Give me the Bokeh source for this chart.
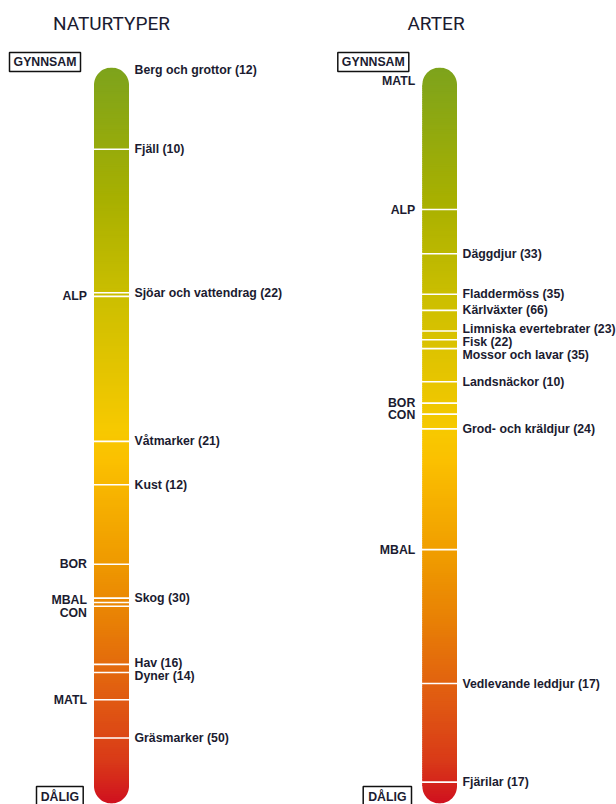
import numpy as np
from bokeh.plotting import figure
from bokeh.models import Range1d, ColumnDataSource
from bokeh.core.properties import value
from bokeh.embed import file_html
from bokeh.resources import INLINE

# ---------------- data (position on status scale: 0 = GYNNSAM, 100 = DÅLIG) ----------------
nat_names = ["Berg och grottor", "Fjäll", "Sjöar och vattendrag", "Våtmarker", "Kust",
             "Skog", "Hav", "Dyner", "Gräsmarker"]
nat_counts = [12, 10, 22, 21, 12, 30, 16, 14, 50]
nat_pos = [0.4, 11.1, 30.6, 50.8, 56.7, 72.1, 81.1, 82.2, 91.1]
nat_regions = ["ALP", "BOR", "MBAL", "CON", "MATL"]
nat_region_pos = [31.1, 67.5, 72.7, 73.2, 85.9]

art_names = ["Däggdjur", "Fladdermöss", "Kärlväxter", "Limniska evertebrater", "Fisk",
             "Mossor och lavar", "Landsnäckor", "Grod- och kräldjur", "Vedlevande leddjur", "Fjärilar"]
art_counts = [33, 35, 66, 23, 22, 35, 10, 24, 17, 17]
art_pos = [25.3, 30.8, 33.0, 35.8, 37.0, 38.2, 42.7, 49.1, 83.7, 97.1]
art_regions = ["MATL", "ALP", "BOR", "CON", "MBAL"]
art_region_pos = [1.9, 19.3, 45.6, 47.1, 65.5]

panel_titles = ["NATURTYPER", "ARTER"]
scale_top_label = "GYNNSAM"
scale_bottom_label = "DÅLIG"

# ---------------- styling / layout ----------------
W, H = 616, 804
TOP = 67.0            # screen y of scale start
PX = 7.36             # pixels per scale unit
def sv(y):
    return (y - TOP) / PX

INK = "#1b1b30"
LABEL_FONT = value("Liberation Sans")
TITLE_FONT = value("Roboto")

stops_v = [0, 18.1, 31.7, 49.3, 53.4, 67.0, 75.1, 86.0, 94.2, 100]
stops_c = ["#7DA31C", "#A8B000", "#CDBF00", "#F7C900", "#FBC000",
           "#EF9A00", "#E88005", "#E05A12", "#D93A18", "#D0101F"]
stop_rgb = np.array([[int(c[i:i + 2], 16) for i in (1, 3, 5)] for c in stops_c], float)

def grad(v):
    return "#%02x%02x%02x" % tuple(int(round(np.interp(v, stops_v, stop_rgb[:, k]))) for k in range(3))

def spread(vals, gap_px=12.8, pull=0.5):
    vals = np.asarray(vals, float)
    order = np.argsort(vals)
    px = vals[order] * PX
    out = px.copy()
    for i in range(1, len(out)):
        out[i] = max(out[i], out[i - 1] + gap_px)
    i = 0
    n = len(out)
    while i < n:
        j = i + 1
        while j < n and out[j] > px[j] + 1e-9:
            j += 1
        if j - i > 1:
            d = np.mean(out[i:j] - px[i:j])
            out[i:j] -= pull * d
        i = j
    res = np.empty(n)
    res[order] = out / PX
    return res

p = figure(width=W, height=H, x_range=Range1d(0, W), y_range=Range1d(sv(H), sv(0)),
           toolbar_location=None, output_backend="svg", x_axis_type=None, y_axis_type=None,
           min_border=0)
p.outline_line_color = None
p.background_fill_color = "white"
p.border_fill_color = "white"

BOTTOM_Y = TOP + 100 * PX

panels = [
    dict(title=panel_titles[0], tx=111, bar=(93.5, 128.5), names=nat_names, counts=nat_counts,
         pos=nat_pos, regions=nat_regions, rpos=nat_region_pos,
         gbox=(9, 80), dbox=(36, 82.7)),
    dict(title=panel_titles[1], tx=435.5, bar=(421.8, 456.5), names=art_names, counts=art_counts,
         pos=art_pos, regions=art_regions, rpos=art_region_pos,
         gbox=(337.3, 408.3), dbox=(362.7, 411)),
]

step = 0.3
vs = np.arange(0, 100, step)
for pn in panels:
    x0, x1 = pn["bar"]
    r = (x1 - x0) / 2
    bots = np.minimum(vs + step * 1.8, 100)
    p.quad(left=x0, right=x1, top=vs, bottom=bots,
           fill_color=[grad(v + step / 2) for v in vs], line_color=None)
    cx = (x0 + x1) / 2
    cyt = TOP + r
    th = np.linspace(np.pi, 2 * np.pi, 40)
    xs_t = [x0 - 1.5, x0 - 1.5] + list(cx + r * np.cos(th)) + [x1 + 1.5, x1 + 1.5]
    ys_t = [TOP - 2, cyt] + list(cyt + r * np.sin(th)) + [cyt, TOP - 2]
    cyb = BOTTOM_Y - r
    th2 = np.linspace(np.pi, 0, 40)
    xs_b = [x0 - 1.5, x0 - 1.5] + list(cx + r * np.cos(th2)) + [x1 + 1.5, x1 + 1.5]
    ys_b = [BOTTOM_Y + 3, cyb] + list(cyb + r * np.sin(th2)) + [cyb, BOTTOM_Y + 3]
    p.patches(xs=[xs_t, xs_b], ys=[[sv(y) for y in ys_t], [sv(y) for y in ys_b]],
              fill_color="white", line_color=None)

    allpos = [v for v in list(pn["pos"]) + list(pn["rpos"]) if v >= 2.5]
    p.segment(x0=x0 - 1, x1=x1 + 1, y0=allpos, y1=allpos, line_color="white", line_width=1.6)

    lab_y = spread(pn["pos"])
    src = ColumnDataSource(dict(x=[x1 + 5.5] * len(pn["names"]), y=lab_y,
                                t=[f"{n} ({c})" for n, c in zip(pn["names"], pn["counts"])]))
    p.text(x="x", y="y", text="t", source=src, text_font=LABEL_FONT, text_font_style="bold",
           text_font_size="12.3px", text_color=INK, text_align="left", text_baseline="middle")

    reg_y = spread(pn["rpos"])
    src2 = ColumnDataSource(dict(x=[x0 - 7] * len(pn["regions"]), y=reg_y, t=pn["regions"]))
    p.text(x="x", y="y", text="t", source=src2, text_font=LABEL_FONT, text_font_style="bold",
           text_font_size="12.3px", text_color=INK, text_align="right", text_baseline="middle")

    p.text(x=[pn["tx"]], y=[sv(22.5)], text=[pn["title"]], text_font=TITLE_FONT,
           text_font_size="19px", text_color=INK, text_align="center", text_baseline="middle")

    g0, g1 = pn["gbox"]
    p.quad(left=g0, right=g1, top=sv(52), bottom=sv(71), fill_color="white",
           line_color="#111111", line_width=1.5)
    p.text(x=[(g0 + g1) / 2], y=[sv(61.8)], text=[scale_top_label], text_font=LABEL_FONT,
           text_font_style="bold", text_font_size="12.3px", text_color=INK,
           text_align="center", text_baseline="middle")
    d0, d1 = pn["dbox"]
    p.quad(left=d0, right=d1, top=sv(786), bottom=sv(810), fill_color="white",
           line_color="#111111", line_width=1.5)
    p.text(x=[(d0 + d1) / 2], y=[sv(796)], text=[scale_bottom_label], text_font=LABEL_FONT,
           text_font_style="bold", text_font_size="12.3px", text_color=INK,
           text_align="center", text_baseline="middle")

open("out.html", "w").write(file_html(p, INLINE))
